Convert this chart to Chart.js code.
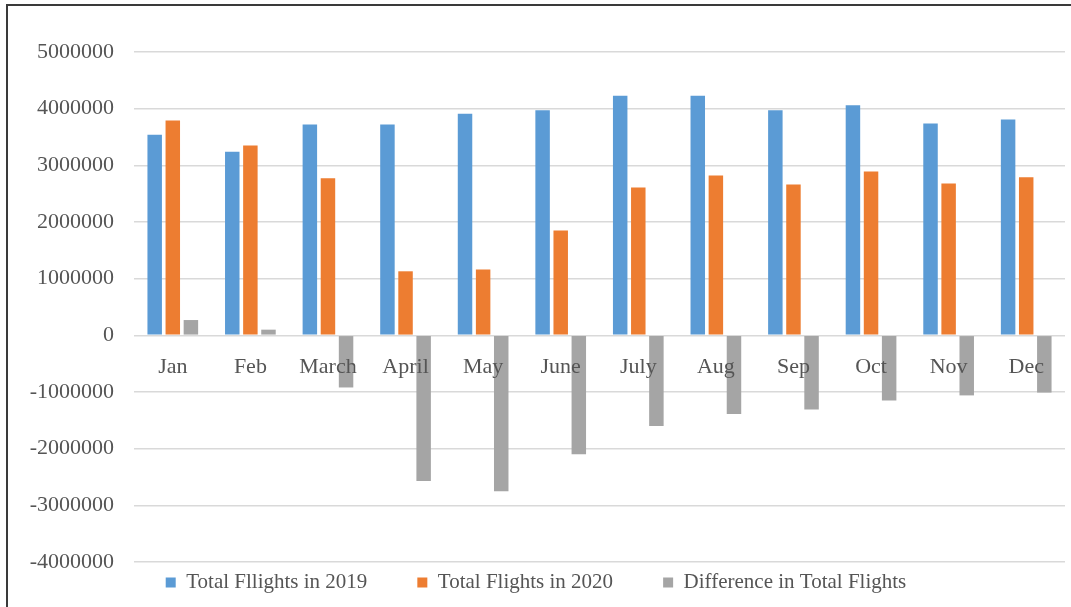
<!DOCTYPE html>
<html>
<head>
<meta charset="utf-8">
<script src="https://cdn.jsdelivr.net/npm/chart.js@4"></script>
<style>
  html, body { margin: 0; padding: 0; background: #fff; overflow: hidden; }
  #wrap { position: relative; width: 1071px; height: 607px; }
  #marco {
    position: absolute; left: 6px; top: 4px; width: 2000px; height: 2000px;
    border-top: 2px solid #3a3a3a; border-left: 2px solid #3a3a3a;
    pointer-events: none;
  }
</style>
</head>
<body>
<div id="wrap">
  <canvas id="miGrafico" width="1071" height="607"></canvas>
  <div id="marco"></div>
</div>
<script>
// datos
const meses = ["Jan", "Feb", "March", "April", "May", "June", "July", "Aug", "Sep", "Oct", "Nov", "Dec"];
const vuelos2019 = [3540000, 3240000, 3720000, 3720000, 3910000, 3970000, 4230000, 4230000, 3970000, 4060000, 3740000, 3810000];
const vuelos2020 = [3790000, 3350000, 2770000, 1130000, 1160000, 1850000, 2610000, 2820000, 2660000, 2890000, 2680000, 2790000];
const diferencia = [270000, 100000, -920000, -2570000, -2750000, -2100000, -1600000, -1390000, -1310000, -1150000, -1060000, -1010000];
const etiquetas = ["Total Fllights in 2019", "Total Flights in 2020", "Difference in Total Flights"];

const fuente = "'Liberation Serif', 'Times New Roman', serif";
const gris = "#555555";

// sube la leyenda para poder separar los items
const subirLeyenda = {
  id: "subirLeyenda",
  afterLayout(chart) {
    const lg = chart.legend;
    const extra = lg.options.labels.padding - 10;
    lg.top -= extra;
    lg.bottom -= extra;
  }
};

let ctx = document.getElementById("miGrafico").getContext("2d");
let chart = new Chart(ctx, {
  type: "bar",
  data: {
    labels: meses,
    datasets: [
      { label: etiquetas[0], data: vuelos2019, backgroundColor: "#5B9BD5", borderWidth: 0 },
      { label: etiquetas[1], data: vuelos2020, backgroundColor: "#ED7D31", borderWidth: 0 },
      { label: etiquetas[2], data: diferencia, backgroundColor: "#A5A5A5", borderWidth: 0 }
    ]
  },
  options: {
    responsive: false,
    animation: false,
    categoryPercentage: 0.7,
    barPercentage: 0.8,
    layout: { padding: { left: 7, top: 52, right: 6, bottom: -36 } },
    plugins: {
      tooltip: { enabled: false },
      legend: {
        position: "bottom",
        labels: {
          font: { family: fuente, size: 21 },
          color: gris,
          boxWidth: 10,
          boxHeight: 10,
          padding: 50
        }
      }
    },
    scales: {
      x: {
        position: { y: 0 },
        grid: { display: false },
        border: { display: false },
        ticks: { z: 1, font: { family: fuente, size: 22 }, color: gris, padding: 11 }
      },
      y: {
        min: -4000000,
        max: 5000000,
        afterFit: (scale) => { scale.width = 127; },
        grid: { color: "#D9D9D9", lineWidth: 1.5, drawTicks: false },
        border: { display: false },
        ticks: {
          stepSize: 1000000,
          padding: 20,
          font: { family: fuente, size: 22 },
          color: gris,
          callback: (v) => String(v)
        }
      }
    }
  },
  plugins: [subirLeyenda]
});
</script>
</body>
</html>
